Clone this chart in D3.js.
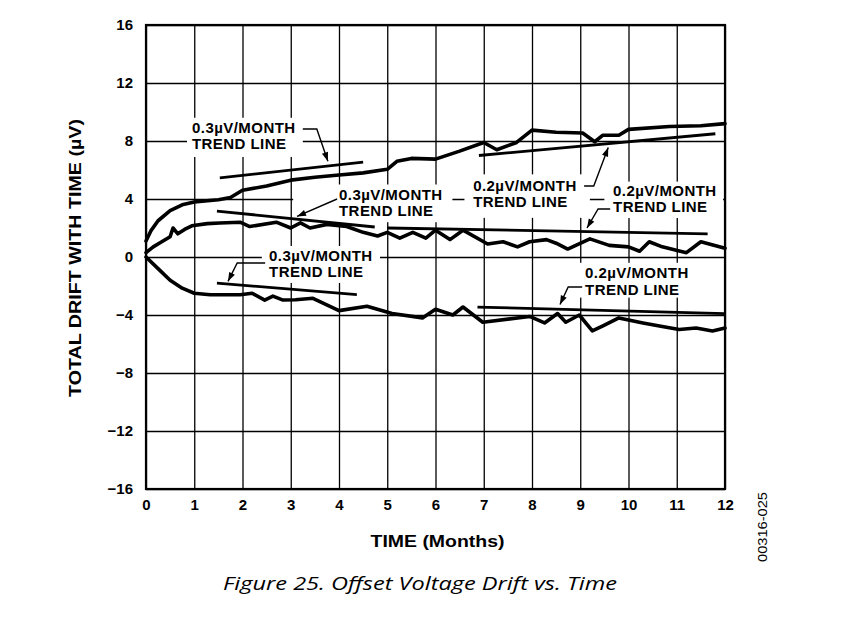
<!DOCTYPE html>
<html>
<head>
<meta charset="utf-8">
<script src="https://cdn.jsdelivr.net/npm/d3@7"></script>
<style>
  html, body { margin: 0; padding: 0; background: #fff; }
  svg { display: block; }
</style>
</head>
<body>
<svg id="chart" width="849" height="634"></svg>
<script>
// ---------------- DATA ----------------
const xTicks = [0,1,2,3,4,5,6,7,8,9,10,11,12];
const yTicks = [-16,-12,-8,-4,0,4,8,12,16];

const upperMonths = [0,0.1,0.25,0.5,0.75,1.0,1.5,1.75,2.0,2.5,3.0,3.5,4.0,4.5,5.0,5.2,5.5,6.0,6.5,7.0,7.27,7.68,8.0,8.5,9.05,9.3,9.47,9.8,10.0,10.85,11.5,12];
const upperDrift  = [1.1,1.8,2.5,3.2,3.6,3.8,3.95,4.1,4.6,4.9,5.3,5.5,5.65,5.8,6.05,6.6,6.8,6.75,7.3,7.9,7.4,7.9,8.75,8.6,8.55,7.95,8.4,8.4,8.8,9.0,9.05,9.2];

const middleMonths = [0,0.15,0.3,0.5,0.56,0.66,0.8,0.95,1.27,1.53,1.95,2.15,2.7,3.0,3.2,3.4,3.75,4.16,4.5,4.8,5.0,5.26,5.53,5.8,6.0,6.3,6.57,7.08,7.4,7.7,7.95,8.3,8.5,8.74,9.2,9.6,10.0,10.23,10.43,10.7,11.2,11.5,12];
const middleDrift  = [0.3,0.7,1.0,1.4,2.0,1.6,1.9,2.15,2.3,2.35,2.4,2.1,2.4,2.0,2.35,2.0,2.25,2.1,1.7,1.45,1.7,1.3,1.7,1.3,1.85,1.2,1.85,0.9,1.05,0.7,1.05,1.2,0.95,0.55,1.25,0.8,0.7,0.4,1.05,0.7,0.3,1.05,0.6];

const lowerMonths = [0,0.25,0.5,0.75,1.0,1.33,1.95,2.2,2.46,2.63,2.84,3.1,3.46,4.0,4.58,5.1,5.73,6.0,6.36,6.57,6.98,7.95,8.26,8.53,8.7,8.98,9.25,9.47,9.8,10.3,10.7,11.05,11.4,11.74,12];
const lowerDrift  = [0,-0.8,-1.6,-2.15,-2.5,-2.6,-2.6,-2.5,-2.97,-2.7,-2.97,-2.95,-2.85,-3.7,-3.4,-3.9,-4.2,-3.6,-4.0,-3.45,-4.5,-4.1,-4.55,-3.9,-4.5,-4.0,-5.1,-4.75,-4.2,-4.55,-4.8,-5.0,-4.9,-5.1,-4.9];

// trend lines: [startMonth, startDrift, endMonth, endDrift]
const trendUpperLeft   = [1.53, 5.45, 4.5, 6.55];
const trendMiddleLeft  = [1.47, 3.17, 4.74, 2.07];
const trendLowerLeft   = [1.47, -1.8, 4.37, -2.6];
const trendUpperRight  = [6.9, 7.0, 11.8, 8.5];
const trendMiddleRight = [5.0, 2.0, 11.64, 1.6];
const trendLowerRight  = [6.87, -3.45, 12, -3.9];

const labelLine1 = ["0.3µV/MONTH", "0.3µV/MONTH", "0.3µV/MONTH", "0.2µV/MONTH", "0.2µV/MONTH", "0.2µV/MONTH"];
const labelLine2 = "TREND LINE";

// ---------------- LAYOUT ----------------
const svg = d3.select("#chart");
const pL = 146, pR = 725, pT = 25, pB = 489;

const x = d3.scaleLinear().domain([0, 12]).range([pL, pR]);
const y = d3.scaleLinear().domain([-16, 16]).range([pB, pT]);

// annotation placement (data coordinates)
const annotations = [
  { text: labelLine1[0], tx: 0.953, ty1: 8.55, ty2: 7.45, box: [0.85, 9.6, 3.25, 6.9],
    leader: [[3.25, 8.83], [3.54, 8.83], [3.77, 6.6]] },
  { text: labelLine1[1], tx: 4.0, ty1: 3.93, ty2: 2.83, box: [3.05, 5.0, 6.35, 2.4],
    leader: [[3.96, 4.0], [3.13, 2.8]] },
  { text: labelLine1[2], tx: 2.55, ty1: -0.28, ty2: -1.38, box: [2.4, 0.76, 4.85, -1.79],
    leader: [[2.47, -0.41], [1.89, -0.41], [1.7, -1.68]] },
  { text: labelLine1[3], tx: 6.78, ty1: 4.55, ty2: 3.45, box: [6.6, 5.7, 9.2, 2.7],
    leader: [[9.08, 4.9], [9.28, 4.9], [9.58, 7.55]] },
  { text: labelLine1[4], tx: 9.68, ty1: 4.2, ty2: 3.08, box: [9.5, 5.2, 11.96, 2.69],
    leader: [[9.62, 3.31], [9.37, 3.31], [9.14, 2.0]] },
  { text: labelLine1[5], tx: 9.1, ty1: -1.45, ty2: -2.62, box: [8.8, -0.4, 11.4, -2.8],
    leader: [[9.04, -2.07], [8.75, -2.07], [8.58, -3.28]] }
];

// ---------------- GRID ----------------
const gridG = svg.append("g");
gridG.append("g")
  .attr("transform", `translate(0,${pB})`)
  .call(d3.axisBottom(x).tickValues(xTicks).tickSize(-(pB - pT)).tickFormat(""))
  .call(g => g.select(".domain").remove())
  .call(g => g.selectAll("line").attr("stroke", "#000").attr("stroke-width", 1.3));
gridG.append("g")
  .attr("transform", `translate(${pL},0)`)
  .call(d3.axisLeft(y).tickValues(yTicks).tickSize(-(pR - pL)).tickFormat(""))
  .call(g => g.select(".domain").remove())
  .call(g => g.selectAll("line").attr("stroke", "#000").attr("stroke-width", 1.3));

// white label backgrounds break the grid
svg.append("g").selectAll("rect").data(annotations).join("rect")
  .attr("x", d => x(d.box[0]))
  .attr("y", d => y(d.box[1]))
  .attr("width", d => x(d.box[2]) - x(d.box[0]))
  .attr("height", d => y(d.box[3]) - y(d.box[1]))
  .attr("fill", "#fff");

// frame
svg.append("rect")
  .attr("x", pL).attr("y", pT)
  .attr("width", pR - pL).attr("height", pB - pT)
  .attr("fill", "none").attr("stroke", "#000").attr("stroke-width", 2.2);

// ---------------- TICK LABELS ----------------
svg.append("g")
  .attr("transform", `translate(${pL},0)`)
  .call(d3.axisLeft(y).tickValues(yTicks).tickSize(0).tickPadding(13)
        .tickFormat(d => d < 0 ? "\u2212" + Math.abs(d) : String(d)))
  .call(g => g.select(".domain").remove())
  .call(g => g.selectAll("text")
      .attr("font-family", "'Liberation Sans', Arial, sans-serif")
      .attr("font-weight", "bold").attr("font-size", 15).attr("fill", "#000"));

svg.append("g")
  .attr("transform", `translate(0,${pB})`)
  .call(d3.axisBottom(x).tickValues(xTicks).tickSize(0).tickPadding(10).tickFormat(d3.format("d")))
  .call(g => g.select(".domain").remove())
  .call(g => g.selectAll("text")
      .attr("font-family", "'Liberation Sans', Arial, sans-serif")
      .attr("font-weight", "bold").attr("font-size", 15).attr("fill", "#000"));

// ---------------- CURVES ----------------
const line = d3.line().x(d => x(d[0])).y(d => y(d[1])).curve(d3.curveLinear);
const series = [
  d3.zip(upperMonths, upperDrift),
  d3.zip(middleMonths, middleDrift),
  d3.zip(lowerMonths, lowerDrift)
];
svg.append("g").selectAll("path").data(series).join("path")
  .attr("d", line)
  .attr("fill", "none").attr("stroke", "#000")
  .attr("stroke-width", 3.6).attr("stroke-linejoin", "round").attr("stroke-linecap", "round");

const trends = [trendUpperLeft, trendMiddleLeft, trendLowerLeft, trendUpperRight, trendMiddleRight, trendLowerRight];
svg.append("g").selectAll("line").data(trends).join("line")
  .attr("x1", d => x(d[0])).attr("y1", d => y(d[1]))
  .attr("x2", d => x(d[2])).attr("y2", d => y(d[3]))
  .attr("stroke", "#000").attr("stroke-width", 2.8);

// ---------------- ANNOTATIONS ----------------
const annG = svg.append("g");
const leaderLine = d3.line().x(d => x(d[0])).y(d => y(d[1]));
annotations.forEach(a => {
  annG.append("path").attr("d", leaderLine(a.leader))
    .attr("fill", "none").attr("stroke", "#000").attr("stroke-width", 1.4);
  const p1 = a.leader[a.leader.length - 2], p2 = a.leader[a.leader.length - 1];
  const X1 = x(p1[0]), Y1 = y(p1[1]), X2 = x(p2[0]), Y2 = y(p2[1]);
  const ang = Math.atan2(Y2 - Y1, X2 - X1);
  const L = 9, Wd = 3.2;
  const bx = X2 - L * Math.cos(ang), by = Y2 - L * Math.sin(ang);
  const pts = [
    [X2, Y2],
    [bx + Wd * Math.sin(ang), by - Wd * Math.cos(ang)],
    [bx - Wd * Math.sin(ang), by + Wd * Math.cos(ang)]
  ];
  annG.append("polygon").attr("points", pts.map(p => p.join(",")).join(" ")).attr("fill", "#000");

  const t = annG.append("text")
    .attr("font-family", "'Liberation Sans', Arial, sans-serif")
    .attr("font-weight", "bold").attr("font-size", 15)
    .attr("letter-spacing", 0.45).attr("fill", "#000");
  t.append("tspan").attr("x", x(a.tx)).attr("y", y(a.ty1)).text(a.text);
  t.append("tspan").attr("x", x(a.tx)).attr("y", y(a.ty2)).text(labelLine2);
});

// ---------------- TITLES ----------------
svg.append("text")
  .attr("x", (pL + pR) / 2 + 2).attr("y", 547)
  .attr("text-anchor", "middle")
  .attr("font-family", "'Liberation Sans', Arial, sans-serif")
  .attr("font-weight", "bold").attr("font-size", 17)
  .attr("textLength", 134).attr("lengthAdjust", "spacingAndGlyphs")
  .text("TIME (Months)");

svg.append("text")
  .attr("transform", `translate(81,${(pT + pB) / 2 + 1}) rotate(-90)`)
  .attr("text-anchor", "middle")
  .attr("font-family", "'Liberation Sans', Arial, sans-serif")
  .attr("font-weight", "bold").attr("font-size", 17)
  .attr("textLength", 278).attr("lengthAdjust", "spacingAndGlyphs")
  .text("TOTAL DRIFT WITH TIME (µV)");

svg.append("text")
  .attr("transform", "translate(767,527) rotate(-90)")
  .attr("text-anchor", "middle")
  .attr("font-family", "'Liberation Sans', Arial, sans-serif")
  .attr("font-size", 12)
  .attr("textLength", 70).attr("lengthAdjust", "spacingAndGlyphs")
  .text("00316-025");

svg.append("text")
  .attr("x", 420).attr("y", 590)
  .attr("text-anchor", "middle")
  .attr("font-family", "'Open Sans', 'Noto Sans', sans-serif")
  .attr("font-style", "italic").attr("font-size", 19)
  .attr("textLength", 394).attr("lengthAdjust", "spacingAndGlyphs")
  .text("Figure 25. Offset Voltage Drift vs. Time");
</script>
</body>
</html>
